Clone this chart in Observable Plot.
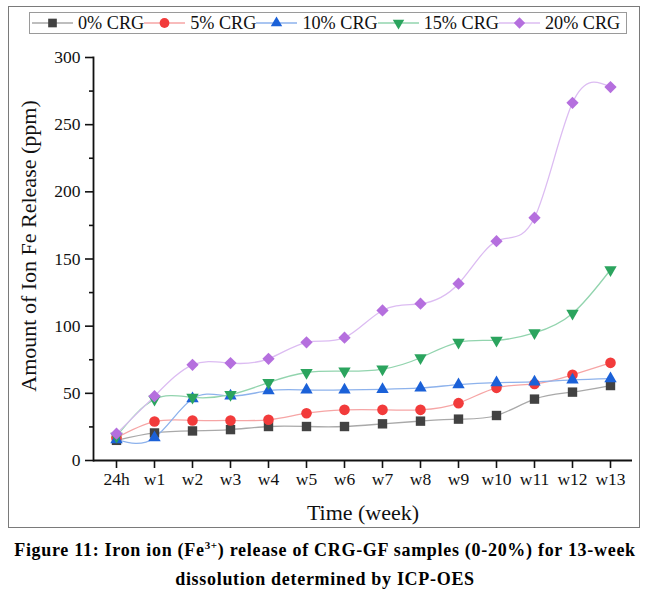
<!DOCTYPE html>
<html>
<head>
<meta charset="utf-8">
<script src="https://cdn.jsdelivr.net/npm/d3@7"></script>
<script src="https://cdn.jsdelivr.net/npm/@observablehq/plot@0.6"></script>
<style>
  body { margin: 0; background: #fff; width: 650px; height: 594px; position: relative; overflow: hidden;
         font-family: "Liberation Serif", "Times New Roman", serif; }
  #frame { position: absolute; left: 8px; top: 6px; width: 632px; height: 522px; border: 1.5px solid #7a7a7a; box-sizing: border-box; }
  #legend { position: absolute; left: 29px; top: 12px; width: 598px; height: 22px; border: 1px solid #9a9a9a; box-sizing: border-box;
            display: flex; align-items: center; padding-left: 2px; font-size: 18.2px; color: #111; white-space: nowrap; }
  #legend .item { display: flex; align-items: center; }
  #legend svg { display: block; }
  #legend span { margin-left: 5px; }
  #chart { position: absolute; left: 0; top: 0; }
  #caption { position: absolute; left: 0; top: 536px; width: 650px; text-align: center; font-weight: bold; font-size: 18px;
             line-height: 29px; letter-spacing: 0.7px; color: #000; }
  #caption sup { font-size: 11px; line-height: 0; }
</style>
</head>
<body>
<div id="frame"></div>
<div id="chart"></div>
<div id="legend"></div>
<div id="caption">Figure 11: Iron ion (Fe<sup>3+</sup>) release of CRG-GF samples (0-20%) for 13-week<br>dissolution determined by ICP-OES</div>
<script>
const weeks = ["24h", "w1", "w2", "w3", "w4", "w5", "w6", "w7", "w8", "w9", "w10", "w11", "w12", "w13"];
const seriesNames = ["0% CRG", "5% CRG", "10% CRG", "15% CRG", "20% CRG"];
const crg0  = [15, 20.5, 22, 23, 25.3, 25.3, 25.3, 27.3, 29.3, 30.8, 33.5, 45.7, 50.9, 55.8];
const crg5  = [17, 29, 29.8, 29.8, 30.3, 35.2, 37.7, 37.7, 37.7, 42.7, 54.1, 57, 63.8, 72.7];
const crg10 = [15.5, 17, 46, 48, 52, 52.5, 52.5, 53, 54, 56.5, 58, 58.5, 60, 61];
const crg15 = [18, 45.5, 47, 49, 58, 65.5, 66.5, 68, 76.5, 88, 89.5, 95, 109.5, 142];
const crg20 = [20, 47.9, 71.2, 72.5, 75.7, 88, 91.4, 111.7, 116.7, 131.6, 163.3, 180.7, 266.3, 278];
const yMajorTicks = [0, 50, 100, 150, 200, 250, 300];
const yMinorTicks = [25, 75, 125, 175, 225, 275];
const xTitle = "Time (week)";
const yTitle = "Amount of Ion Fe Release (ppm)";

const values = [crg0, crg5, crg10, crg15, crg20];
const markerColors = ["#424242", "#f23b3b", "#1b61d8", "#2ba45e", "#b56fde"];
const lineColors = ["#a9a9a9", "#f6a5a5", "#8db2ec", "#92d4ae", "#dcbcf2"];
const symbols = ["square", "circle", "triangle", "triangle", "square"];
const rotations = [0, 0, 0, 180, 45];
const sizes = [5.3, 5.3, 4.6, 4.6, 4.9];

const serif = "'Liberation Serif', 'Times New Roman', serif";
const seriesData = seriesNames.map((s, i) => weeks.map((w, j) => ({series: s, week: w, value: values[i][j]})));

const marks = [];
seriesData.forEach((d, i) => {
  marks.push(Plot.line(d, {x: "week", y: "value", curve: "natural", stroke: lineColors[i], strokeWidth: 1.3}));
});
seriesData.forEach((d, i) => {
  marks.push(Plot.dot(d, {x: "week", y: "value", symbol: symbols[i], r: sizes[i], rotate: rotations[i], fill: markerColors[i], stroke: "none"}));
});

const chart = Plot.plot({
  width: 650,
  height: 540,
  marginLeft: 93,
  marginRight: 18,
  marginTop: 57,
  marginBottom: 80,
  style: {fontFamily: serif, background: "transparent", color: "#111"},
  x: {type: "point", domain: weeks, padding: 0.52},
  y: {domain: [0, 300]},
  marks: [
    ...marks,
    Plot.axisY({ticks: yMajorTicks, tickSize: 8, tickPadding: 5, fontSize: 17.5, fontFamily: serif, strokeWidth: 1.6, label: null}),
    Plot.axisY({ticks: yMinorTicks, tickSize: 4, tickFormat: () => "", strokeWidth: 1.6, label: null}),
    Plot.axisX({tickSize: 8, tickPadding: 4, fontSize: 17.5, fontFamily: serif, strokeWidth: 1.6, label: null}),
    Plot.ruleY([0], {strokeWidth: 1.8, stroke: "#111"}),
    Plot.frame({anchor: "left", strokeWidth: 1.8, stroke: "#111"}),
    Plot.text([xTitle], {text: d => d, frameAnchor: "bottom", dy: 52, lineAnchor: "middle", textAnchor: "middle", fontSize: 22, fontFamily: serif, fill: "#111"}),
    Plot.text([yTitle], {text: d => d, frameAnchor: "left", dx: -65, dy: -13, rotate: -90, textAnchor: "middle", lineAnchor: "middle", fontSize: 22, fontFamily: serif, fill: "#111"})
  ]
});
document.getElementById("chart").appendChild(chart);

// Legend
const legend = d3.select("#legend");
seriesNames.forEach((s, i) => {
  const item = legend.append("div").attr("class", "item");
  const svg = item.append("svg").attr("width", 41).attr("height", 20);
  svg.append("line").attr("x1", 0).attr("x2", 41).attr("y1", 10).attr("y2", 10)
    .attr("stroke", lineColors[i]).attr("stroke-width", 1.3);
  const symType = symbols[i] === "circle" ? d3.symbolCircle : symbols[i] === "triangle" ? d3.symbolTriangle : d3.symbolSquare;
  svg.append("path")
    .attr("d", d3.symbol(symType, Math.PI * sizes[i] * sizes[i] * 0.85)())
    .attr("transform", `translate(20.5,10) rotate(${rotations[i]})`)
    .attr("fill", markerColors[i]);
  item.append("span").text(s);
});
</script>
</body>
</html>
